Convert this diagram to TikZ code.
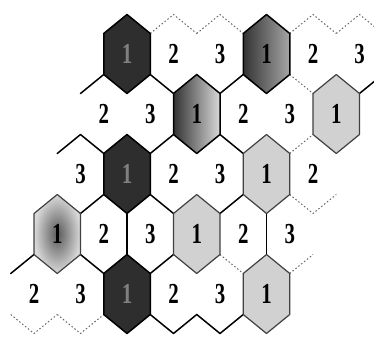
\documentclass[tikz,border=0pt]{standalone}
\usepackage{fontspec}
\setmainfont{Liberation Serif}
\newcommand\hexdigit[1]{\scalebox{0.72}[1]{\bfseries #1}}
\begin{document}
\begin{tikzpicture}[x=1pt,y=-1pt,
  edge/.style={line width=1.5pt,line join=round,line cap=round},
  faint/.style={line width=1pt,black!60,dash pattern=on 1.5pt off 2.2pt},
  hexdark/.style={draw=black,line width=1.5pt,line join=round},
  hexlight/.style={draw=black!75,line width=1.2pt,line join=round},
  num/.style={inner sep=0pt,font=\fontsize{29}{29}\selectfont},
  onedark/.style={num,text=black!50},
]
\useasboundingbox (0,0) rectangle (374,339);
\clip (0,0) rectangle (374,339);
% cell centres and corners
\foreach \r in {0,...,4}{
  \foreach \c in {0,...,6}{
    \pgfmathsetmacro\X{127+46.5*\c-23.25*\r}
    \pgfmathsetmacro\Y{54+60*\r}
    \coordinate (h-\r-\c) at (\X,\Y);
    \coordinate (h-\r-\c-T) at (\X,\Y-39.5);
    \coordinate (h-\r-\c-UR) at (\X+23.25,\Y-20.5);
    \coordinate (h-\r-\c-LR) at (\X+23.25,\Y+20.5);
    \coordinate (h-\r-\c-B) at (\X,\Y+39.5);
    \coordinate (h-\r-\c-LL) at (\X-23.25,\Y+20.5);
    \coordinate (h-\r-\c-UL) at (\X-23.25,\Y-20.5);
  }
}
% fills
\foreach \cell/\fc in {0-0/black!82,2-1/black!82,4-2/black!82,1-5/black!18,2-4/black!18,3-3/black!18,4-5/black!18}
  \fill[fill=\fc] (h-\cell-T) -- (h-\cell-UR) -- (h-\cell-LR) -- (h-\cell-B) -- (h-\cell-LL) -- (h-\cell-UL) -- cycle;
\shade[left color=black!80,right color=black!35] (h-0-3-T) -- (h-0-3-UR) -- (h-0-3-LR) -- (h-0-3-B) -- (h-0-3-LL) -- (h-0-3-UL) -- cycle;
\shade[left color=black!80,right color=black!15] (h-1-2-T) -- (h-1-2-UR) -- (h-1-2-LR) -- (h-1-2-B) -- (h-1-2-LL) -- (h-1-2-UL) -- cycle;
\shade[inner color=black!65,outer color=black!15] (h-3-0-T) -- (h-3-0-UR) -- (h-3-0-LR) -- (h-3-0-B) -- (h-3-0-LL) -- (h-3-0-UL) -- cycle;
% solid lattice edges
\draw[edge] (h-1-0-UL) -- (h-1-0-T);
\draw[edge] (h-0-1-LL) -- (h-0-1-B);
\draw[edge] (h-1-3-UL) -- (h-1-3-T);
\draw[edge] (h-1-6-UL) -- (h-1-6-T);
\draw[edge] (h-2-0-UL) -- (h-2-0-T) -- (h-2-0-UR);
\draw[edge] (h-2-2-UL) -- (h-2-2-T);
\draw[edge] (h-2-3-T) -- (h-2-3-UR);
\draw[edge] (h-2-0-B) -- (h-2-0-LR);
\draw[edge] (h-2-2-LL) -- (h-2-2-B);
\draw[edge] (h-2-3-B) -- (h-2-3-LR);
\draw[edge] (h-3-1-UR) -- (h-3-1-LR);
\draw[edge] (h-3-4-UR) -- (h-3-4-LR);
\draw[edge] (h-4-0-UL) -- (h-4-0-T);
\draw[edge] (h-4-1-T) -- (h-4-1-UR);
\draw[edge] (h-4-3-UL) -- (h-4-3-T);
\draw[edge] (h-4-3-LL) -- (h-4-3-B) -- (h-4-3-LR);
\draw[edge] (h-4-4-LL) -- (h-4-4-B) -- (h-4-4-LR);
% faint lattice edges
\foreach \cell in {0-1,0-2,0-4,0-5}
  \draw[faint] (h-\cell-UL) -- (h-\cell-T) -- (h-\cell-UR);
\draw[faint] (h-1-4-T) -- (h-1-4-UR);
\draw[faint] (h-2-5-UL) -- (h-2-5-T);
\draw[faint] (h-2-5-LL) -- (h-2-5-B) -- (h-2-5-LR);
\draw[faint] (h-4-4-T) -- (h-4-4-UR);
\draw[faint] (h-4-6-UL) -- (h-4-6-T);
\draw[faint] (h-4-0-LL) -- (h-4-0-B) -- (h-4-0-LR);
\draw[faint] (h-4-1-LL) -- (h-4-1-B) -- (h-4-1-LR);
% hexagon outlines
\foreach \cell in {0-0,0-3,1-2,2-1,4-2}
  \draw[hexdark] (h-\cell-T) -- (h-\cell-UR) -- (h-\cell-LR) -- (h-\cell-B) -- (h-\cell-LL) -- (h-\cell-UL) -- cycle;
\foreach \cell in {1-5,2-4,3-0,3-3,4-5}
  \draw[hexlight] (h-\cell-T) -- (h-\cell-UR) -- (h-\cell-LR) -- (h-\cell-B) -- (h-\cell-LL) -- (h-\cell-UL) -- cycle;
% labels
\foreach \cell in {0-1,0-4,1-0,1-3,2-2,2-5,3-1,3-4,4-0,4-3}
  \node[num] (n\cell) at (h-\cell) {\hexdigit{2}};
\foreach \cell in {0-2,0-5,1-1,1-4,2-0,2-3,3-2,3-5,4-1,4-4}
  \node[num] (n\cell) at (h-\cell) {\hexdigit{3}};
\foreach \cell in {0-3,1-2,1-5,2-4,3-0,3-3,4-5}
  \node[num] (n\cell) at (h-\cell) {\hexdigit{1}};
\foreach \cell in {0-0,2-1,4-2}
  \node[onedark] (n\cell) at (h-\cell) {\hexdigit{1}};
\end{tikzpicture}
\end{document}
